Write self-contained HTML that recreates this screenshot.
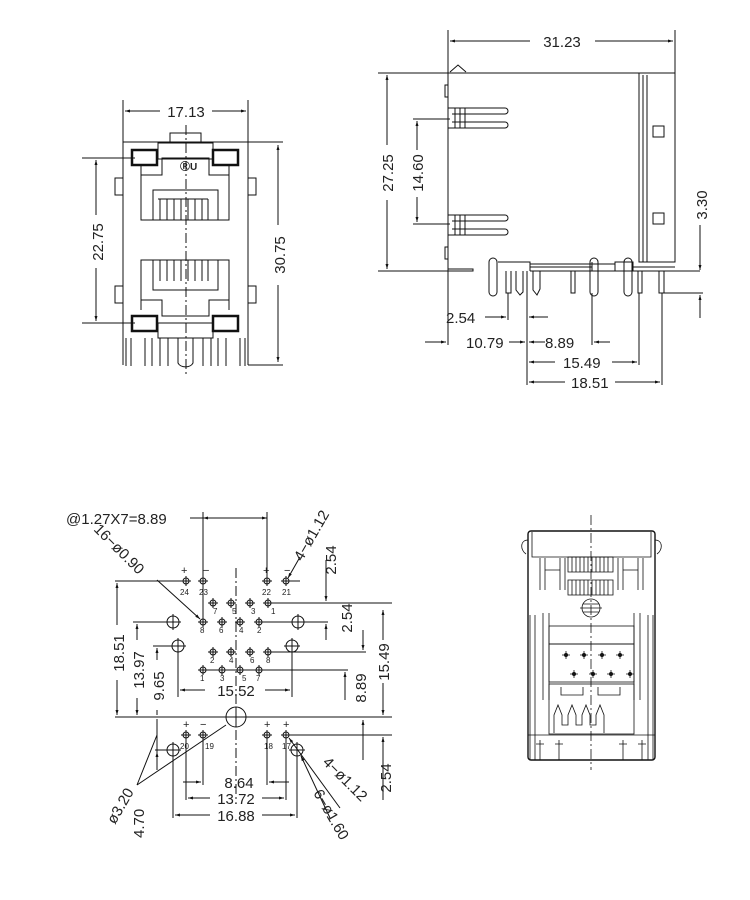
<!DOCTYPE html>
<html><head><meta charset="utf-8"><style>
html,body{margin:0;padding:0;background:#fff}
svg{display:block}
text{font-family:"Liberation Sans",sans-serif;font-size:15px;fill:#222;stroke:none;font-weight:normal}
.s{font-size:8px}
</style></head><body>
<svg width="750" height="900" viewBox="0 0 750 900" xmlns="http://www.w3.org/2000/svg" fill="none" stroke="#111" stroke-width="1">
<defs><marker id="a" viewBox="0 0 10 10" refX="10" refY="5" markerWidth="9" markerHeight="5" orient="auto-start-reverse"><path d="M0,2 L10,5 L0,8z" fill="#111" stroke="none"/></marker></defs>

<!-- FRONT VIEW -->
<g>
<line x1="123" y1="100" x2="123" y2="365"/><line x1="248" y1="100" x2="248" y2="365"/>
<line x1="160" y1="111" x2="125" y2="111" marker-end="url(#a)"/>
<line x1="212" y1="111" x2="246" y2="111" marker-end="url(#a)"/>
<text x="186" y="117" text-anchor="middle">17.13</text>
<line x1="123" y1="142" x2="283" y2="142"/>
<line x1="248" y1="365" x2="283" y2="365"/>
<line x1="278" y1="145" x2="278" y2="225" marker-start="url(#a)"/>
<line x1="278" y1="285" x2="278" y2="362" marker-end="url(#a)"/>
<text transform="translate(285 255) rotate(-90)" text-anchor="middle">30.75</text>
<line x1="82" y1="158" x2="135" y2="158"/><line x1="82" y1="323" x2="135" y2="323"/>
<line x1="96" y1="160" x2="96" y2="215" marker-start="url(#a)"/>
<line x1="96" y1="268" x2="96" y2="321" marker-end="url(#a)"/>
<text transform="translate(103 242) rotate(-90)" text-anchor="middle">22.75</text>
<rect x="170" y="133" width="31" height="10"/>
<rect x="158" y="143" width="55" height="16"/>
<rect x="132" y="150" width="25" height="15" stroke-width="2.5"/>
<rect x="213" y="150" width="25" height="15" stroke-width="2.5"/>
<rect x="132" y="316" width="25" height="15" stroke-width="2.5"/>
<rect x="213" y="316" width="25" height="15" stroke-width="2.5"/>
<rect x="158" y="323" width="55" height="15"/>
<path d="M141,165 V220 H229 V165 M141,175 H162 V158 H209 V175 H229"/>
<rect x="153" y="190" width="65" height="30"/>
<path d="M158,199 h50 M160,199 v21 M167,199 v21 M174,199 v21 M181,199 v21 M188,199 v21 M195,199 v21 M202,199 v21 M208,199 v21"/>
<path d="M141,310 V260 H229 V310 M141,300 H162 V316 H209 V300 H229"/>
<rect x="153" y="260" width="65" height="30"/>
<path d="M160,260 v21 M167,260 v21 M174,260 v21 M181,260 v21 M188,260 v21 M195,260 v21 M202,260 v21 M208,260 v21"/>
<rect x="115" y="178" width="8" height="17"/><rect x="248" y="178" width="8" height="17"/>
<rect x="115" y="286" width="8" height="17"/><rect x="248" y="286" width="8" height="17"/>
<text x="180" y="170" style="font-size:10px;font-weight:bold">ⓇU</text>
<path d="M126,338 v28 M131,338 v28 M145,338 v28 M152,338 v28 M160,338 v28 M168,338 v28 M203,338 v28 M211,338 v28 M218,338 v28 M226,338 v28 M240,338 v28 M245,338 v28"/>
<path d="M178,338 v25 a8,6 0 0 0 15,0 v-25"/>
<line x1="186" y1="125" x2="186" y2="375" stroke-dasharray="10,3,2,3"/>
</g>

<!-- SIDE VIEW -->
<g>
<line x1="448" y1="30" x2="448" y2="345"/><line x1="675" y1="30" x2="675" y2="158"/>
<line x1="530" y1="41" x2="450" y2="41" marker-end="url(#a)"/>
<line x1="595" y1="41" x2="673" y2="41" marker-end="url(#a)"/>
<text x="562" y="47" text-anchor="middle">31.23</text>
<path d="M448,73 H675 V262 H639 V73 M643,75 V262 M647,75 V262"/>
<path d="M450,72 l8,-7 l8,7"/>
<line x1="378" y1="73" x2="448" y2="73"/><line x1="378" y1="271" x2="448" y2="271"/>
<line x1="387" y1="75" x2="387" y2="145" marker-start="url(#a)"/>
<line x1="387" y1="200" x2="387" y2="269" marker-end="url(#a)"/>
<text transform="translate(393 173) rotate(-90)" text-anchor="middle">27.25</text>
<line x1="413" y1="119" x2="450" y2="119"/><line x1="413" y1="224" x2="450" y2="224"/>
<line x1="417" y1="121" x2="417" y2="150" marker-start="url(#a)"/>
<line x1="417" y1="197" x2="417" y2="222" marker-end="url(#a)"/>
<text transform="translate(423 173) rotate(-90)" text-anchor="middle">14.60</text>
<rect x="653" y="126" width="11" height="11"/><rect x="653" y="213" width="11" height="11"/>
<path d="M448,108 H505 a3,3 0 0 1 0,6 H452 M452,122 H505 a3,3 0 0 1 0,6 H448 M455,108 v20 M460,108 v20 M465,108 v20"/>
<path d="M448,215 H505 a3,3 0 0 1 0,6 H452 M452,229 H505 a3,3 0 0 1 0,6 H448 M455,215 v20 M460,215 v20 M465,215 v20"/>
<rect x="445" y="85" width="3" height="12"/><rect x="445" y="247" width="3" height="12"/>
<path d="M448,269 H473 V271 H448"/>
<path d="M498,262 H530 V267 H592 M530,264 H615 V262 H633 V267 H675 M592,262 V271 M615,262 V271 M633,262 V271 M530,267 V271 M530,271 H700"/>
<path d="M489,262 a4,4 0 0 1 8,0 V292 a4,4 0 0 1 -8,0 Z"/>
<path d="M590,262 a4,4 0 0 1 8,0 V292 a4,4 0 0 1 -8,0 Z"/>
<path d="M624,262 a4,4 0 0 1 8,0 V292 a4,4 0 0 1 -8,0 Z"/>
<path d="M506,271 V293 H511 V271 M516,271 V290 l4,5 l3,-3 V271 M533,271 V290 l4,5 l3,-6 V271 M571,271 V293 H575 V271 M638,271 V293 H642 V271 M659,271 V293 H664 V271"/>
<line x1="664" y1="293" x2="703" y2="293"/>
<line x1="700" y1="225" x2="700" y2="270" marker-end="url(#a)"/>
<line x1="700" y1="318" x2="700" y2="295" marker-end="url(#a)"/>
<text transform="translate(707 205) rotate(-90)" text-anchor="middle">3.30</text>
<line x1="527" y1="271" x2="527" y2="385"/><line x1="508" y1="293" x2="508" y2="320"/>
<line x1="592" y1="293" x2="592" y2="345"/><line x1="639" y1="293" x2="639" y2="365"/><line x1="662" y1="293" x2="662" y2="385"/>
<text x="446" y="323">2.54</text>
<line x1="485" y1="317" x2="506" y2="317" marker-end="url(#a)"/>
<line x1="548" y1="317" x2="529" y2="317" marker-end="url(#a)"/>
<line x1="425" y1="342" x2="446" y2="342" marker-end="url(#a)"/>
<text x="466" y="348">10.79</text>
<line x1="509" y1="342" x2="525" y2="342" marker-end="url(#a)"/>
<line x1="545" y1="342" x2="529" y2="342" marker-end="url(#a)"/>
<text x="545" y="348">8.89</text>
<line x1="610" y1="342" x2="594" y2="342" marker-end="url(#a)"/>
<line x1="555" y1="362" x2="529" y2="362" marker-end="url(#a)"/>
<text x="563" y="368">15.49</text>
<line x1="612" y1="362" x2="637" y2="362" marker-end="url(#a)"/>
<line x1="565" y1="382" x2="529" y2="382" marker-end="url(#a)"/>
<text x="571" y="388">18.51</text>
<line x1="615" y1="382" x2="660" y2="382" marker-end="url(#a)"/>
</g>

<!-- FOOTPRINT -->
<g>
<line x1="236" y1="568" x2="236" y2="800" stroke-dasharray="10,3,2,3"/>
<line x1="115" y1="717" x2="392" y2="717"/>
<circle cx="236" cy="717" r="10"/>
<line x1="115" y1="581" x2="186" y2="581"/>
<line x1="286" y1="581" x2="300" y2="581"/>
<line x1="268" y1="603" x2="392" y2="603"/>
<line x1="268" y1="652" x2="366" y2="652"/>
<line x1="203" y1="670" x2="348" y2="670"/>
<line x1="259" y1="622" x2="328" y2="622"/>
<line x1="286" y1="735" x2="392" y2="735"/>
<line x1="133" y1="622" x2="173" y2="622"/>
<line x1="153" y1="646" x2="178" y2="646"/>
<line x1="155" y1="750" x2="173" y2="750"/>
<g>
<circle cx="186" cy="581" r="3"/><circle cx="203" cy="581" r="3"/><circle cx="267" cy="581" r="3"/><circle cx="286" cy="581" r="3"/>
<circle cx="213" cy="603" r="3"/><circle cx="231" cy="603" r="3"/><circle cx="250" cy="603" r="3"/><circle cx="268" cy="603" r="3"/>
<circle cx="203" cy="622" r="3"/><circle cx="222" cy="622" r="3"/><circle cx="240" cy="622" r="3"/><circle cx="259" cy="622" r="3"/>
<circle cx="213" cy="652" r="3"/><circle cx="231" cy="652" r="3"/><circle cx="250" cy="652" r="3"/><circle cx="268" cy="652" r="3"/>
<circle cx="203" cy="670" r="3"/><circle cx="222" cy="670" r="3"/><circle cx="240" cy="670" r="3"/><circle cx="259" cy="670" r="3"/>
<circle cx="186" cy="735" r="3"/><circle cx="203" cy="735" r="3"/><circle cx="267" cy="735" r="3"/><circle cx="286" cy="735" r="3"/>
</g>
<path d="M181,581h10M186,576v10M198,581h10M203,576v10M262,581h10M267,576v10M281,581h10M286,576v10M208,603h10M213,598v10M226,603h10M231,598v10M245,603h10M250,598v10M263,603h10M268,598v10M198,622h10M203,617v10M217,622h10M222,617v10M235,622h10M240,617v10M254,622h10M259,617v10M208,652h10M213,647v10M226,652h10M231,647v10M245,652h10M250,647v10M263,652h10M268,647v10M198,670h10M203,665v10M217,670h10M222,665v10M235,670h10M240,665v10M254,670h10M259,665v10M181,735h10M186,730v10M198,735h10M203,730v10M262,735h10M267,730v10M281,735h10M286,730v10"/>
<circle cx="173" cy="622" r="6"/><circle cx="298" cy="622" r="6"/>
<circle cx="178" cy="646" r="6"/><circle cx="292" cy="646" r="6"/>
<circle cx="173" cy="750" r="6"/><circle cx="297" cy="750" r="6"/>
<path d="M165,622h16M173,614v16M290,622h16M298,614v16M170,646h16M178,638v16M284,646h16M292,638v16M165,750h16M173,742v16M289,750h16M297,742v16M226,717h20M236,707v20"/>
<text x="180" y="595" class="s">24</text><text x="199" y="595" class="s">23</text><text x="262" y="595" class="s">22</text><text x="282" y="595" class="s">21</text>
<text x="213" y="614" class="s">7</text><text x="232" y="614" class="s">5</text><text x="251" y="614" class="s">3</text><text x="271" y="614" class="s">1</text>
<text x="200" y="633" class="s">8</text><text x="219" y="633" class="s">6</text><text x="239" y="633" class="s">4</text><text x="257" y="633" class="s">2</text>
<text x="210" y="663" class="s">2</text><text x="229" y="663" class="s">4</text><text x="250" y="663" class="s">6</text><text x="266" y="663" class="s">8</text>
<text x="200" y="681" class="s">1</text><text x="220" y="681" class="s">3</text><text x="242" y="681" class="s">5</text><text x="256" y="681" class="s">7</text>
<text x="180" y="749" class="s">20</text><text x="205" y="749" class="s">19</text><text x="264" y="749" class="s">18</text><text x="282" y="749" class="s">17</text>
<text x="181" y="574" style="font-size:11px">+</text><text x="203" y="574" style="font-size:11px">−</text><text x="263" y="574" style="font-size:11px">+</text><text x="284" y="574" style="font-size:11px">−</text>
<text x="183" y="728" style="font-size:11px">+</text><text x="200" y="728" style="font-size:11px">−</text><text x="264" y="728" style="font-size:11px">+</text><text x="283" y="728" style="font-size:11px">+</text>
<text x="66" y="524">@1.27X7=8.89</text>
<line x1="190" y1="518" x2="203" y2="518"/>
<line x1="203" y1="518" x2="267" y2="518" marker-start="url(#a)" marker-end="url(#a)"/>
<line x1="203" y1="512" x2="203" y2="622"/><line x1="267" y1="512" x2="267" y2="581"/>
<text transform="translate(93 530) rotate(45)">16−ø0.90</text>
<line x1="157" y1="580" x2="200" y2="619" marker-end="url(#a)"/>
<text transform="translate(302 562) rotate(-60)">4−ø1.12</text>
<line x1="300" y1="557" x2="288" y2="578" marker-end="url(#a)"/>
<line x1="326" y1="560" x2="326" y2="601" marker-end="url(#a)"/>
<text transform="translate(336 560) rotate(-90)" text-anchor="middle">2.54</text>
<line x1="326" y1="640" x2="326" y2="624" marker-end="url(#a)"/>
<text transform="translate(352 618) rotate(-90)" text-anchor="middle">2.54</text>
<line x1="363" y1="630" x2="363" y2="650" marker-end="url(#a)"/>
<line x1="345" y1="700" x2="345" y2="672" marker-end="url(#a)"/>
<text transform="translate(366 688) rotate(-90)" text-anchor="middle">8.89</text>
<line x1="383" y1="610" x2="383" y2="640" marker-start="url(#a)"/>
<line x1="383" y1="683" x2="383" y2="715" marker-end="url(#a)"/>
<text transform="translate(389 662) rotate(-90)" text-anchor="middle">15.49</text>
<line x1="363" y1="760" x2="363" y2="720" marker-end="url(#a)"/>
<line x1="383" y1="800" x2="383" y2="737" marker-end="url(#a)"/>
<text transform="translate(391 778) rotate(-90)" text-anchor="middle">2.54</text>
<line x1="117" y1="583" x2="117" y2="625" marker-start="url(#a)"/>
<line x1="117" y1="680" x2="117" y2="715" marker-end="url(#a)"/>
<text transform="translate(124 653) rotate(-90)" text-anchor="middle">18.51</text>
<line x1="137" y1="624" x2="137" y2="640" marker-start="url(#a)"/>
<line x1="137" y1="698" x2="137" y2="715" marker-end="url(#a)"/>
<text transform="translate(144 670) rotate(-90)" text-anchor="middle">13.97</text>
<line x1="157" y1="648" x2="157" y2="660" marker-start="url(#a)"/>
<line x1="157" y1="710" x2="157" y2="715" />
<text transform="translate(164 686) rotate(-90)" text-anchor="middle">9.65</text>
<line x1="157" y1="719" x2="157" y2="770" />
<line x1="157" y1="770" x2="157" y2="752" marker-end="url(#a)"/>
<line x1="178" y1="652" x2="178" y2="697"/><line x1="292" y1="652" x2="292" y2="697"/>
<line x1="205" y1="690" x2="180" y2="690" marker-end="url(#a)"/>
<text x="236" y="696" text-anchor="middle">15.52</text>
<line x1="265" y1="690" x2="290" y2="690" marker-end="url(#a)"/>
<line x1="186" y1="740" x2="186" y2="800"/><line x1="203" y1="740" x2="203" y2="785"/>
<line x1="267" y1="740" x2="267" y2="785"/><line x1="286" y1="740" x2="286" y2="800"/>
<line x1="173" y1="756" x2="173" y2="818"/><line x1="297" y1="756" x2="297" y2="818"/>
<line x1="183" y1="782" x2="201" y2="782" marker-end="url(#a)"/>
<line x1="289" y1="782" x2="269" y2="782" marker-end="url(#a)"/>
<text x="239" y="788" text-anchor="middle">8.64</text>
<line x1="210" y1="798" x2="188" y2="798" marker-end="url(#a)"/>
<text x="236" y="804" text-anchor="middle">13.72</text>
<line x1="262" y1="798" x2="284" y2="798" marker-end="url(#a)"/>
<line x1="210" y1="815" x2="175" y2="815" marker-end="url(#a)"/>
<text x="236" y="821" text-anchor="middle">16.88</text>
<line x1="262" y1="815" x2="295" y2="815" marker-end="url(#a)"/>
<path d="M137,785 L157,735 M137,785 L226,725"/>
<text transform="translate(115 825) rotate(-60)">ø3.20</text>
<text transform="translate(144 838) rotate(-90)">4.70</text>
<line x1="340" y1="808" x2="289" y2="738" marker-end="url(#a)"/>
<text transform="translate(322 763) rotate(45)">4−ø1.12</text>
<line x1="330" y1="818" x2="301" y2="756" marker-end="url(#a)"/>
<text transform="translate(313 793) rotate(60)">6−ø1.60</text>
</g>

<!-- BOTTOM VIEW -->
<g stroke-width="0.8">
<line x1="591" y1="515" x2="591" y2="770" stroke-dasharray="10,3,2,3"/>
<rect x="528" y="531" width="127" height="229" rx="3" stroke-width="1.4"/>
<path d="M532,532 V557 H651 V532"/>
<path d="M528,540 c-8,0 -8,10 -2,14 M655,540 c8,0 8,10 2,14"/>
<path d="M540,558 V590 M545,558 V590 M560,558 V590 M565,558 V590 M618,558 V590 M623,558 V590 M638,558 V590 M643,558 V590 M545,570 H560 M623,570 H638"/>
<path d="M568,557 h45 v15 h-45 z M568,580 h45 v15 h-45 z M572,557v15M576,557v15M580,557v15M584,557v15M588,557v15M592,557v15M596,557v15M600,557v15M604,557v15M608,557v15M572,580v15M576,580v15M580,580v15M584,580v15M588,580v15M592,580v15M596,580v15M600,580v15M604,580v15M608,580v15"/>
<circle cx="591" cy="608" r="9"/><path d="M580,608h22 M583,604h16 M583,612h16"/>
<path d="M543,613 V700 M549,613 V700 M634,613 V700 M640,613 V700 M530,615 V760 M535,615 V760 M648,615 V760 M653,615 V760"/>
<rect x="549" y="626" width="85" height="18"/>
<rect x="549" y="644" width="85" height="38"/>
<rect x="549" y="684" width="85" height="50"/>
<path d="M562,655h8M566,651v8M580,655h8M584,651v8M598,655h8M602,651v8M616,655h8M620,651v8M570,674h8M574,670v8M589,674h8M593,670v8M607,674h8M611,670v8M626,674h8M630,670v8"/>
<g fill="#111" stroke="none"><circle cx="566" cy="655" r="2"/><circle cx="584" cy="655" r="2"/><circle cx="602" cy="655" r="2"/><circle cx="620" cy="655" r="2"/><circle cx="574" cy="674" r="2"/><circle cx="593" cy="674" r="2"/><circle cx="611" cy="674" r="2"/><circle cx="630" cy="674" r="2"/></g>
<path d="M561,687 v8 h22 v-8 M598,687 v8 h22 v-8"/>
<path d="M554,733 V715 l4,-10 l4,10 V725 h6 V715 l4,-10 l4,10 V725 h6 V715 l4,-10 l4,10 V725 h6 V715 l4,-10 l4,10 V733"/>
<path d="M528,735 H655"/>
<path d="M540,740v20M559,740v20M623,740v20M642,740v20M536,744h8M555,744h8M619,744h8M638,744h8"/>
</g>
</svg>
</body></html>
